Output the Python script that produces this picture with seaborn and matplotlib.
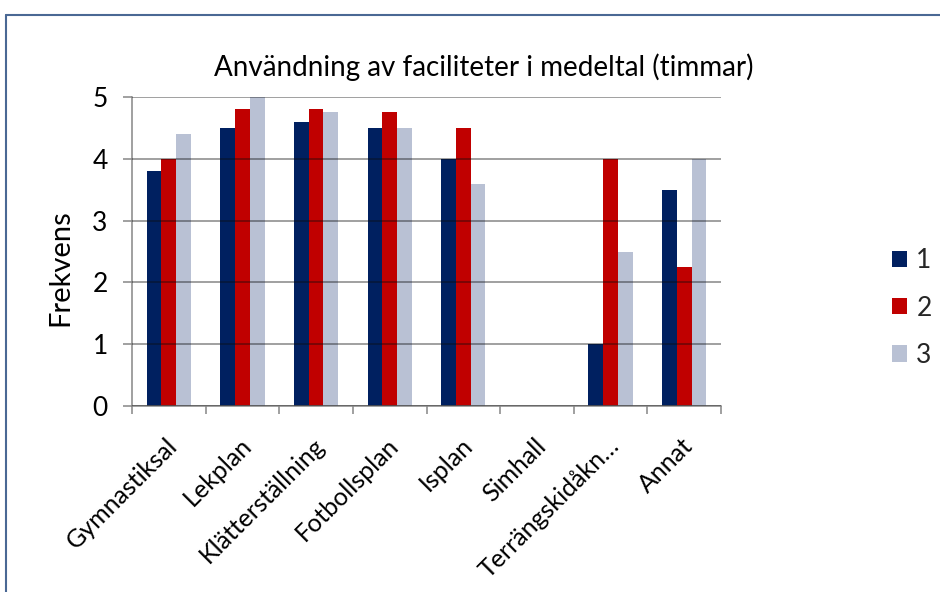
import matplotlib
matplotlib.use("Agg")
import matplotlib.pyplot as plt
import seaborn as sns
import pandas as pd
from matplotlib.lines import Line2D
from matplotlib.ticker import FixedLocator
import matplotlib.transforms as mtransforms

# Data: average usage of facilities (hours) for three groups
categories = ["Gymnastiksal", "Lekplan", "Klätterställning", "Fotbollsplan",
              "Isplan", "Simhall", "Terrängskidåkn…", "Annat"]
groups = ["1", "2", "3"]
group1 = [3.8, 4.5, 4.6, 4.5, 4.0, 0.0, 1.0, 3.5]
group2 = [4.0, 4.8, 4.8, 4.75, 4.5, 0.0, 4.0, 2.25]
group3 = [4.4, 5.0, 4.75, 4.5, 3.6, 0.0, 2.5, 4.0]
y_ticks = [0, 1, 2, 3, 4, 5]
title = "Användning av faciliteter i medeltal (timmar)"
y_label = "Frekvens"

colors = ["#002060", "#C00000", "#B9C1D4"]
grid_grey = "#868686"

sns.set_theme(style="white")
plt.rcParams["font.family"] = ["Lato", "DejaVu Sans"]

df = pd.DataFrame({
    "Facilitet": categories * 3,
    "Grupp": [g for g, vals in zip(groups, [group1, group2, group3]) for _ in vals],
    "Timmar": group1 + group2 + group3,
})

W, H = 940, 592
fig = plt.figure(figsize=(W / 100, H / 100), dpi=100)
fig.patch.set_facecolor("white")
ax = fig.add_axes([132 / W, 1 - 406 / H, 589 / W, 309 / H])

sns.barplot(data=df, x="Facilitet", y="Timmar", hue="Grupp", hue_order=groups,
            order=categories, palette=colors, width=0.6, gap=0, saturation=1,
            errorbar=None, linewidth=0, ax=ax)

handles, labels = ax.get_legend_handles_labels()
if ax.get_legend() is not None:
    ax.get_legend().remove()

ax.set_xlim(-0.5, len(categories) - 0.5)
ax.set_ylim(0, 5)
ax.set_xlabel("")
ax.set_ylabel("")

# Horizontal gridlines drawn over the bars
ax.set_yticks(y_ticks)
ax.yaxis.grid(True, color="#0d0d0d", alpha=0.5, linewidth=1.1)
ax.xaxis.grid(False)
ax.set_axisbelow(False)

for side in ["top", "right"]:
    ax.spines[side].set_visible(False)
for side in ["left", "bottom"]:
    ax.spines[side].set_color(grid_grey)
    ax.spines[side].set_linewidth(1.1)

ax.tick_params(axis="y", which="major", left=True, length=6.5, width=1.1,
               color=grid_grey, pad=11, labelsize=19, labelcolor="black")

# Category labels at centres, tick marks at category boundaries
ax.xaxis.set_minor_locator(FixedLocator([i - 0.5 for i in range(len(categories) + 1)]))
ax.tick_params(axis="x", which="minor", bottom=True, length=6, width=1.1, color=grid_grey)
ax.tick_params(axis="x", which="major", bottom=True, length=0, pad=20, labelsize=18,
               labelcolor="black")
ax.set_xticks(range(len(categories)))
ax.set_xticklabels(categories, rotation=45, ha="right", va="top", rotation_mode="anchor")
shift = mtransforms.ScaledTranslation(-3 / 100, 0, fig.dpi_scale_trans)
for lab in ax.get_xticklabels():
    lab.set_transform(lab.get_transform() + shift)

fig.text(484 / W, 1 - 67 / H, title, ha="center", va="center", fontsize=20, color="black")
fig.text(60 / W, 1 - 268 / H, y_label, rotation=90, ha="center", va="center",
         fontsize=21, color="black")

fig.legend(handles, labels, loc="center left", bbox_to_anchor=(892 / W, 1 - 308 / H),
           frameon=False, fontsize=19, handlelength=0.57, handleheight=0.57,
           handletextpad=0.35, labelspacing=0.85, borderpad=0, borderaxespad=0)

# Chart frame (top and left edges)
frame_color = "#4A6894"
fig.add_artist(Line2D([6 / W, 1.0], [1 - 15 / H, 1 - 15 / H], transform=fig.transFigure,
                      color=frame_color, linewidth=1.5))
fig.add_artist(Line2D([6 / W, 6 / W], [0.0, 1 - 15 / H], transform=fig.transFigure,
                      color=frame_color, linewidth=1.5))

fig.savefig("out.png", dpi=100)
